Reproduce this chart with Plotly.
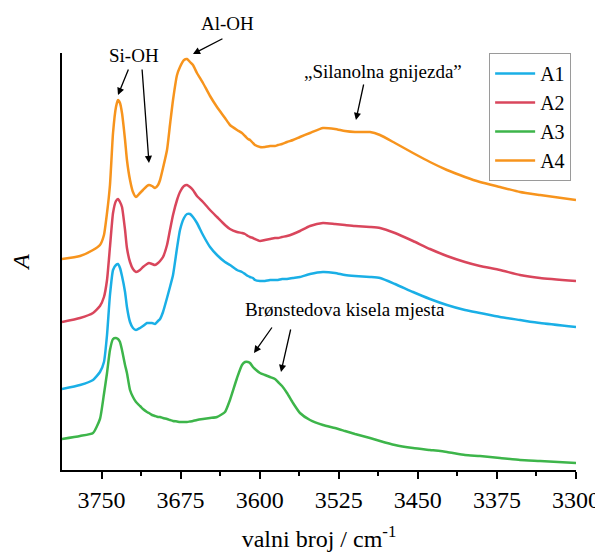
import plotly.graph_objects as go

# wavenumber grid (cm^-1), shared by all spectra
wavenumber = [3787.5, 3770.4, 3758.1, 3751.5, 3747.7, 3744.8, 3742.0, 3739.1, 3736.3, 3734.4,
              3732.5, 3730.6, 3727.7, 3725.9, 3723.0, 3720.2, 3717.3, 3713.5, 3710.7, 3706.9,
              3705.0, 3702.1, 3699.3, 3696.4, 3694.5, 3691.7, 3687.9, 3685.1, 3682.2, 3678.4,
              3675.6, 3671.8, 3668.9, 3666.1, 3663.3, 3659.5, 3653.8, 3647.1, 3640.5, 3632.9,
              3628.2, 3621.5, 3616.8, 3613.9, 3611.1, 3609.2, 3606.4, 3604.5, 3599.7, 3595.0,
              3590.2, 3585.5, 3582.6, 3578.8, 3574.1, 3568.4, 3561.8, 3552.3, 3540.0, 3528.6,
              3519.1, 3509.6, 3495.4, 3485.9, 3471.7, 3454.6, 3438.5, 3422.4, 3405.3, 3391.1,
              3372.1, 3353.1, 3334.1, 3300.0]

A1 = [0.81, 0.85, 0.90, 0.98, 1.08, 1.35, 1.75, 2.00, 2.05, 2.06,
      2.02, 1.94, 1.78, 1.63, 1.48, 1.42, 1.40, 1.42, 1.44, 1.47,
      1.47, 1.47, 1.46, 1.49, 1.51, 1.58, 1.72, 1.83, 1.95, 2.22,
      2.40, 2.52, 2.56, 2.56, 2.53, 2.47, 2.35, 2.23, 2.15, 2.08,
      2.05, 2.00, 1.98, 1.96, 1.94, 1.93, 1.92, 1.90, 1.89, 1.89,
      1.90, 1.90, 1.90, 1.91, 1.91, 1.92, 1.93, 1.96, 1.98, 1.97,
      1.95, 1.94, 1.93, 1.92, 1.86, 1.78, 1.71, 1.65, 1.60, 1.57,
      1.53, 1.50, 1.47, 1.43]

A2 = [1.48, 1.52, 1.57, 1.64, 1.73, 1.90, 2.23, 2.57, 2.69, 2.71,
      2.68, 2.63, 2.40, 2.22, 2.08, 2.01, 1.98, 2.00, 2.03, 2.06,
      2.07, 2.06, 2.05, 2.07, 2.09, 2.13, 2.25, 2.40, 2.55, 2.70,
      2.78, 2.84, 2.85, 2.83, 2.80, 2.74, 2.68, 2.60, 2.53, 2.45,
      2.41, 2.38, 2.37, 2.36, 2.34, 2.33, 2.32, 2.31, 2.29, 2.30,
      2.31, 2.32, 2.32, 2.33, 2.34, 2.36, 2.39, 2.44, 2.47, 2.46,
      2.45, 2.44, 2.43, 2.42, 2.37, 2.29, 2.21, 2.14, 2.08, 2.04,
      2.00, 1.95, 1.92, 1.89]

A3 = [0.31, 0.34, 0.37, 0.51, 0.76, 0.97, 1.20, 1.31, 1.32, 1.31,
      1.28, 1.20, 1.05, 0.97, 0.80, 0.73, 0.68, 0.64, 0.61, 0.58,
      0.57, 0.55, 0.54, 0.53, 0.53, 0.52, 0.51, 0.50, 0.49, 0.485,
      0.48, 0.48, 0.48, 0.485, 0.49, 0.50, 0.51, 0.52, 0.53, 0.58,
      0.70, 0.92, 1.05, 1.08, 1.08, 1.07, 1.03, 1.01, 0.97, 0.95,
      0.93, 0.91, 0.88, 0.84, 0.77, 0.67, 0.57, 0.50, 0.45, 0.42,
      0.39, 0.36, 0.32, 0.29, 0.25, 0.22, 0.20, 0.18, 0.15, 0.14,
      0.12, 0.10, 0.09, 0.07]

A4 = [2.11, 2.14, 2.20, 2.25, 2.35, 2.57, 2.85, 3.37, 3.63, 3.70,
      3.67, 3.57, 3.30, 3.10, 2.90, 2.78, 2.73, 2.77, 2.80, 2.84,
      2.85, 2.84, 2.82, 2.85, 2.90, 3.02, 3.20, 3.45, 3.70, 3.95,
      4.03, 4.10, 4.11, 4.08, 4.05, 3.97, 3.87, 3.74, 3.63, 3.52,
      3.45, 3.40, 3.37, 3.34, 3.31, 3.30, 3.27, 3.25, 3.23, 3.23,
      3.24, 3.24, 3.25, 3.26, 3.28, 3.30, 3.33, 3.37, 3.42, 3.41,
      3.39, 3.38, 3.38, 3.35, 3.27, 3.17, 3.08, 3.00, 2.93, 2.88,
      2.83, 2.78, 2.75, 2.70]

series_names = ["A1", "A2", "A3", "A4"]
series_values = [A1, A2, A3, A4]
series_colors = ["#1AAFE6", "#D9465C", "#3DB54A", "#F7941D"]

tick_values = [3750, 3675, 3600, 3525, 3450, 3375, 3300]
tick_labels = ["3750", "3675", "3600", "3525", "3450", "3375", "3300"]
minor_tick_values = [3712.5, 3637.5, 3562.5, 3487.5, 3412.5, 3337.5]

SERIF = "Times New Roman"

fig = go.Figure()
for name, vals, col in zip(series_names, series_values, series_colors):
    fig.add_trace(go.Scatter(x=wavenumber, y=vals, name=name, mode="lines",
                             line=dict(color=col, width=2.5, shape="spline", smoothing=0.5)))

ann_font = dict(family=SERIF, size=19, color="black")
texts = [
    ("Si-OH", 3719.2, 0.995),
    ("Al-OH", 3630.1, 1.07),
    ("\u201eSilanolna gnijezda\u201d", 3483.0, 0.955),
    ("Br\u00f8nstedova kisela mjesta", 3519.1, 0.384),
]
for t, x, y in texts:
    fig.add_annotation(x=x, y=y, xref="x", yref="paper", text=t, showarrow=False,
                       font=ann_font, xanchor="center", yanchor="middle")

arrows = [
    (3734.4, 3.75, 11, -27),
    (3705.0, 3.07, -7, -95),
    (3663.3, 4.16, 31, -16),
    (3508.7, 3.50, 8, -37),
    (3605.4, 1.17, 19, -27),
    (3579.8, 0.98, 10, -44),
]
for x, y, ax, ay in arrows:
    fig.add_annotation(x=x, y=y, ax=ax, ay=ay, text="", showarrow=True,
                       arrowhead=2, arrowsize=1.1, arrowwidth=1.3, arrowcolor="black")

fig.update_layout(
    width=595, height=544,
    margin=dict(l=54, r=27, t=45, b=82, autoexpand=False),
    paper_bgcolor="white", plot_bgcolor="white",
    font=dict(family=SERIF, color="black"),
    showlegend=True,
    legend=dict(x=0.831, y=1.0, xanchor="left", yanchor="top",
                bordercolor="#9a9a9a", borderwidth=1, bgcolor="white",
                font=dict(family=SERIF, size=20, color="black"),
                tracegroupgap=0, itemwidth=40),
    xaxis=dict(range=[3787.5, 3300], tickmode="array", tickvals=tick_values,
               ticktext=tick_labels, ticks="outside", ticklen=7, tickwidth=1.5,
               tickcolor="black", showline=True, linecolor="black", linewidth=1.5,
               showgrid=False, zeroline=False, automargin=False,
               tickfont=dict(family=SERIF, size=24, color="black"),
               minor=dict(tickmode="array", tickvals=minor_tick_values,
                          ticks="outside", ticklen=4, tickwidth=1.5, tickcolor="black", showgrid=False),
               title=dict(text="valni broj / cm<sup>-1</sup>",
                          font=dict(family=SERIF, size=24, color="black"), standoff=22)),
    yaxis=dict(range=[0, 4.17], showticklabels=False, ticks="", showline=True,
               linecolor="black", linewidth=1.5, showgrid=False, zeroline=False,
               automargin=False,
               title=dict(text="<i>A</i>", font=dict(family=SERIF, size=24, color="black"),
                          standoff=36)),
)

fig.write_html("out.html")
